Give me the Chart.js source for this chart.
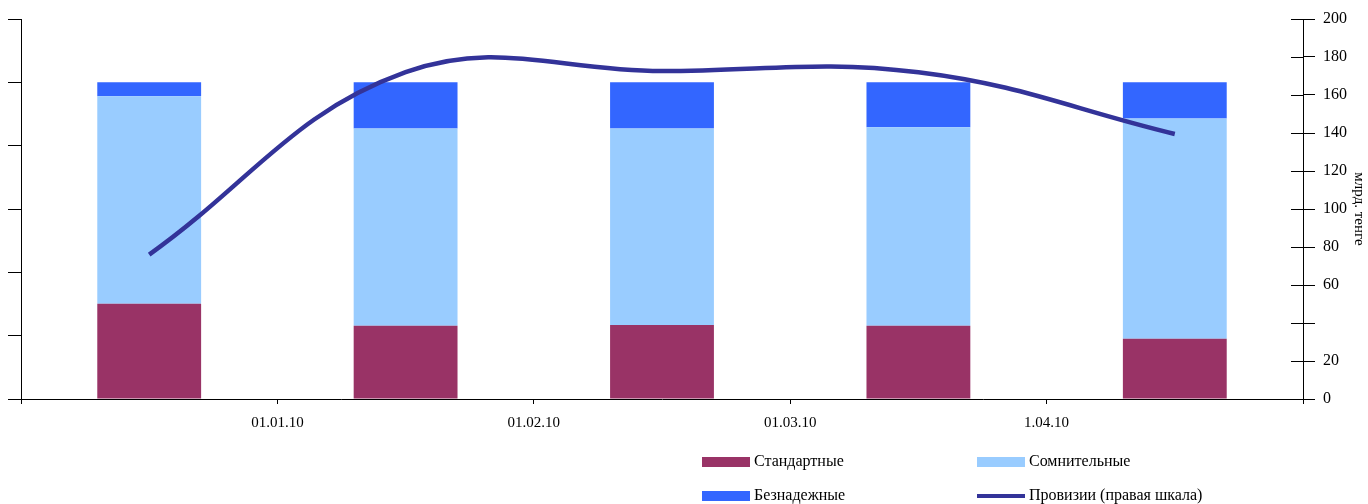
<!DOCTYPE html>
<html>
<head>
<meta charset="utf-8">
<script src="https://cdn.jsdelivr.net/npm/chart.js@4/dist/chart.umd.min.js"></script>
<style>
  html, body { margin: 0; padding: 0; background: #fff; }
  #wrap { width: 1368px; height: 504px; position: relative; }
</style>
</head>
<body>
<div id="wrap"><canvas id="c" width="1368" height="504"></canvas></div>
<script>
// ---- data ----
const categories = ["1", "2", "3", "4", "5"];
const boundaryLabels = ["", "01.01.10", "01.02.10", "01.03.10", "1.04.10", ""];
const standard = [30.1, 23.1, 23.4, 23.1, 19.0];
const doubtful = [65.5, 62.3, 62.0, 62.7, 69.6];
const hopeless = [4.4, 14.6, 14.6, 14.2, 11.4];
const provisions = [76, 172, 172.6, 172, 139.5];
const rightTickLabels = ["0", "20", "", "60", "80", "100", "120", "140", "160", "180", "200"];
const seriesNames = ["Стандартные", "Сомнительные", "Безнадежные", "Провизии (правая шкала)"];
const rightAxisTitle = "млрд. тенге";

const FONT = "'Liberation Serif', 'Times New Roman', serif";
const COLORS = { std: "#993366", dbt: "#99CCFF", hop: "#3366FF", line: "#333399" };

// inner half of the right-axis tick marks (they cross the axis line)
const crossTicks = {
  id: "crossTicks",
  afterDraw(chart) {
    const s = chart.scales.y1;
    const ctx = chart.ctx;
    ctx.save();
    ctx.strokeStyle = "#000";
    ctx.lineWidth = 1;
    s.ticks.forEach((t, i) => {
      const y = Math.round(s.getPixelForTick(i)) + 0.5;
      ctx.beginPath();
      ctx.moveTo(s.left - 12, y);
      ctx.lineTo(s.left, y);
      ctx.stroke();
    });
    ctx.restore();
  }
};

// two-column legend
const gridLegend = {
  id: "gridLegend",
  afterDraw(chart) {
    const ctx = chart.ctx;
    const cols = [702, 977];
    const rows = [462, 496];
    const items = [
      { ds: 1, col: 0, row: 0 },
      { ds: 2, col: 1, row: 0 },
      { ds: 3, col: 0, row: 1 },
      { ds: 0, col: 1, row: 1 }
    ];
    ctx.save();
    ctx.font = "16px " + FONT;
    ctx.textBaseline = "middle";
    ctx.fillStyle = "#000";
    items.forEach(it => {
      const d = chart.data.datasets[it.ds];
      const x = cols[it.col], y = rows[it.row];
      if (d.type === "line") {
        ctx.fillStyle = d.borderColor;
        ctx.fillRect(x, y - 2, 48, 4);
      } else {
        ctx.fillStyle = d.backgroundColor;
        ctx.fillRect(x, y - 5, 48, 10);
      }
      ctx.fillStyle = "#000";
      ctx.fillText(d.label, x + 52, y);
    });
    ctx.restore();
  }
};

new Chart(document.getElementById("c"), {
  data: {
    labels: categories,
    datasets: [
      {
        type: "line", label: seriesNames[3], data: provisions, yAxisID: "y1", xAxisID: "x",
        borderColor: COLORS.line, backgroundColor: COLORS.line, borderWidth: 4.5,
        pointRadius: 0, tension: 0.4, order: 0, fill: false
      },
      {
        type: "bar", label: seriesNames[0], data: standard, yAxisID: "y", xAxisID: "x",
        backgroundColor: COLORS.std, borderWidth: 0, categoryPercentage: 1, barPercentage: 0.405, order: 1
      },
      {
        type: "bar", label: seriesNames[1], data: doubtful, yAxisID: "y", xAxisID: "x",
        backgroundColor: COLORS.dbt, borderWidth: 0, categoryPercentage: 1, barPercentage: 0.405, order: 1
      },
      {
        type: "bar", label: seriesNames[2], data: hopeless, yAxisID: "y", xAxisID: "x",
        backgroundColor: COLORS.hop, borderWidth: 0, categoryPercentage: 1, barPercentage: 0.405, order: 1
      }
    ]
  },
  options: {
    responsive: false,
    animation: false,
    layout: { padding: { top: 19, left: 8, right: 0, bottom: 62 } },
    plugins: { legend: { display: false }, tooltip: { enabled: false } },
    scales: {
      x: {
        type: "category", stacked: true, offset: true, display: false
      },
      x2: {
        type: "category", labels: boundaryLabels, offset: false, position: "bottom",
        grid: { drawOnChartArea: false, drawTicks: true, tickLength: 5, color: "#000" },
        border: { display: true, color: "#000", width: 1 },
        ticks: { color: "#000", font: { family: FONT, size: 15 }, padding: 10, maxRotation: 0, autoSkip: false }
      },
      y: {
        type: "linear", stacked: true, position: "left", min: 0, max: 120,
        grid: { drawOnChartArea: false, tickLength: 13, color: "#000" },
        border: { display: true, color: "#000", width: 1 },
        ticks: { display: false, stepSize: 20 }
      },
      y1: {
        type: "linear", position: "right", min: 0, max: 200,
        afterFit: (s) => { s.width = 65; },
        grid: { drawOnChartArea: false, tickLength: 12, color: "#000" },
        border: { display: true, color: "#000", width: 1 },
        ticks: {
          stepSize: 20, padding: 8, color: "#000", font: { family: FONT, size: 16 },
          callback: (v, i) => rightTickLabels[i]
        },
        title: { display: true, text: rightAxisTitle, color: "#000", font: { family: FONT, size: 15 }, padding: { top: 0, bottom: 2 } }
      }
    }
  },
  plugins: [crossTicks, gridLegend]
});
</script>
</body>
</html>
